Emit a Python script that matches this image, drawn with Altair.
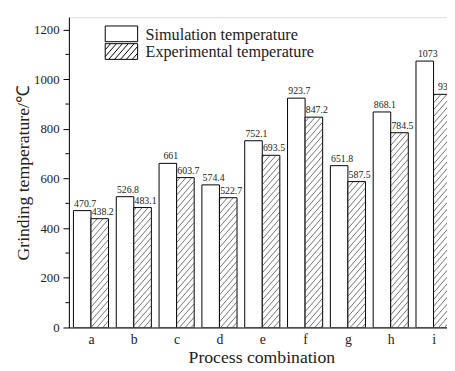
import math
import altair as alt
import pandas as pd

categories = ['a', 'b', 'c', 'd', 'e', 'f', 'g', 'h', 'i']
simulation = [470.7, 526.8, 661, 574.4, 752.1, 923.7, 651.8, 868.1, 1073]
experimental = [438.2, 483.1, 603.7, 522.7, 693.5, 847.2, 587.5, 784.5, 939]
series_names = ['Simulation temperature', 'Experimental temperature']
y_ticks = [0, 200, 400, 600, 800, 1000, 1200]
y_minor = [100, 300, 500, 700, 900, 1100]

W, H = 385, 316
XMIN, XMAX = -0.516, 8.314
YMAX = 1250
BW = 0.41
PX = W / (XMAX - XMIN)
PY = H / YMAX
SLOPE = 1.15
SP = 6.9
FONT = 'Liberation Serif'

bars = []
hatch = []
for k, (c, s, e) in enumerate(zip(categories, simulation, experimental)):
    bars.append(dict(cat=c, series=series_names[0], x0=k - BW, x1=k, v=s, lab=f"{s:g}"))
    bars.append(dict(cat=c, series=series_names[1], x0=k, x1=k + BW, v=e, lab=f"{e:g}"))
    # hatch segments for the experimental bar (pixel-space slope, converted to data)
    p0, p1, hb = k * PX, (k + BW) * PX, e * PY
    kmin = math.ceil((-SLOPE * p1) / SP)
    kmax = math.floor((hb - SLOPE * p0) / SP)
    for j in range(kmin, kmax + 1):
        cc = j * SP
        lo = max(p0, -cc / SLOPE)
        hi = min(p1, (hb - cc) / SLOPE)
        if hi - lo > 0.05:
            hatch.append(dict(hx=lo / PX, hy=(SLOPE * lo + cc) / PY,
                              hx2=hi / PX, hy2=(SLOPE * hi + cc) / PY))
bars_df = pd.DataFrame(bars)
bars_df['mid'] = (bars_df.x0 + bars_df.x1) / 2
hatch_df = pd.DataFrame(hatch)

# legend symbol paths (rectangle, and rectangle with hatching)
HW, HH = 16.5, 8.0
rect_path = f"M-1,{-HH/HW:.4f}H1V{HH/HW:.4f}H-1Z"
segs = []
kmin = math.ceil((-HH - SLOPE * HW) / SP)
kmax = math.floor((HH + SLOPE * HW) / SP)
for j in range(kmin, kmax + 1):
    cc = j * SP
    lo = max(-HW, (-HH - cc) / SLOPE)
    hi = min(HW, (HH - cc) / SLOPE)
    if hi - lo > 0.3:
        segs.append(f"M{lo/HW:.4f},{-(SLOPE*lo+cc)/HW:.4f}L{hi/HW:.4f},{-(SLOPE*hi+cc)/HW:.4f}")
hatch_path = rect_path + "".join(segs)

xscale = alt.Scale(domain=[XMIN, XMAX], nice=False, zero=False)
yscale = alt.Scale(domain=[0, YMAX], nice=False)

label_expr = "[" + ",".join(f"'{c}'" for c in categories) + "][datum.value]"

base = alt.Chart(bars_df)
bar_layer = base.mark_rect(fill='white', stroke='black', strokeWidth=1, clip=True).encode(
    x=alt.X('x0:Q', scale=xscale,
            axis=alt.Axis(values=list(range(len(categories))), labelExpr=label_expr,
                          ticks=False, grid=False, labelFont=FONT,
                          labelFontSize=14, labelPadding=5, labelFlush=False,
                          labelOverlap=False, labelColor='#222',
                          title='Process combination', titleFont=FONT,
                          titleFontSize=18, titleFontWeight='normal', titlePadding=3,
                          titleX=196, titleColor='#222', domainColor='black')),
    x2='x1:Q',
    y=alt.Y('v:Q', scale=yscale,
            axis=alt.Axis(values=y_ticks, format='d', tickSize=6, tickColor='black', grid=False,
                          labelFont=FONT, labelFontSize=13, labelPadding=4,
                          labelColor='#222', title='Grinding temperature/℃',
                          titleFont=FONT, titleFontSize=18,
                          titleFontWeight='normal', titlePadding=1, titleColor='#222',
                          domainColor='black')),
    y2=alt.datum(0),
)

hatch_layer = alt.Chart(hatch_df).mark_rule(color='#333', strokeWidth=0.7, clip=True).encode(
    x=alt.X('hx:Q', scale=xscale), x2='hx2:Q',
    y=alt.Y('hy:Q', scale=yscale), y2='hy2:Q',
)

text_layer = base.mark_text(font=FONT, fontSize=10, dx=3, dy=-4,
                            baseline='alphabetic', color='#222').encode(
    x=alt.X('mid:Q', scale=xscale), y=alt.Y('v:Q', scale=yscale), text='lab:N'
)

minor_layer = alt.Chart(pd.DataFrame({'m': y_minor})).mark_rule(color='black', strokeWidth=1).encode(
    y=alt.Y('m:Q', scale=yscale), x=alt.value(-3.5), x2=alt.value(0)
)

one = pd.DataFrame({'k': [0]})
leg_layers = []
for i, (name, path) in enumerate(zip(series_names, [rect_path, hatch_path])):
    yy = 17 + 18 * i
    leg_layers.append(alt.Chart(one).mark_point(filled=True, fill='white', stroke='black',
                                                strokeWidth=1, opacity=1, shape=path, size=1089).encode(
        x=alt.value(53.5), y=alt.value(yy)))
    leg_layers.append(alt.Chart(one).mark_text(align='left', baseline='middle', font=FONT,
                                               fontSize=16.5, color='#222', text=name).encode(
        x=alt.value(78), y=alt.value(yy + 1)))

chart = alt.layer(bar_layer, hatch_layer, text_layer, minor_layer, *leg_layers).properties(
    width=W, height=H,
    autosize=alt.AutoSizeParams(type='none'),
    padding={'left': 62, 'top': 6, 'right': 0, 'bottom': 41},
).configure_view(stroke=None).configure(background='white')

chart.save("out.html", embed_options={"renderer": "svg", "actions": False})
